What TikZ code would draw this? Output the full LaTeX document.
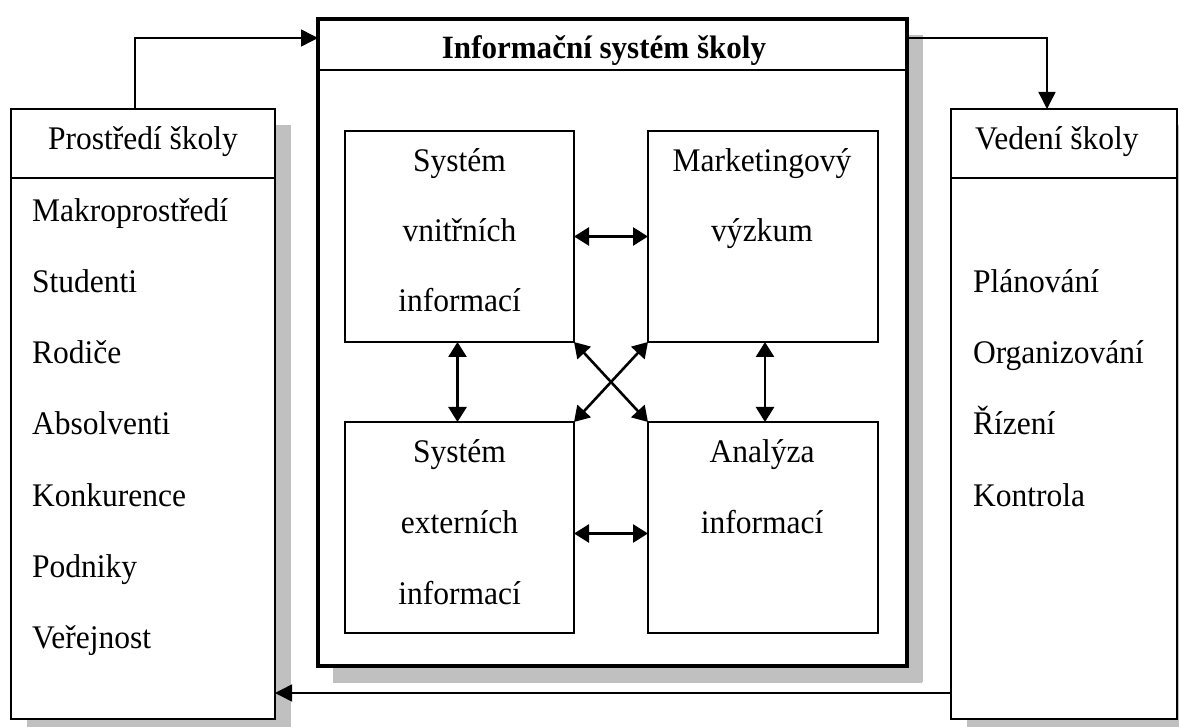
\documentclass[tikz,border=0pt]{standalone}
\usepackage{fontspec}
\setmainfont{Liberation Serif}[FakeStretch=0.955]
\usetikzlibrary{arrows.meta,shadows,calc}
\definecolor{shadowgray}{HTML}{C0C0C0}
\begin{document}
\begin{tikzpicture}[x=1pt,y=-1pt,
  shbox/.style={draw, fill=white, line width=1.6pt, inner sep=0pt, outer sep=0pt, anchor=north west,
    drop shadow={shadow xshift=16pt, shadow yshift=-16pt, fill=shadowgray, opacity=1}},
  inbox/.style={draw, fill=white, line width=1.5pt, inner sep=0pt, outer sep=0pt, anchor=north west},
  txt/.style={font=\fontsize{33}{40}\selectfont, inner sep=0pt, outer sep=0pt},
  conn/.style={line width=1.5pt, -{Triangle[length=17pt,width=17pt]}},
  biarrow/.style={line width=2.6pt, {Triangle[length=15pt,width=18pt]}-{Triangle[length=15pt,width=18pt]}}
]
\useasboundingbox (0,0) rectangle (1179,727);
\clip (0,0) rectangle (1179,727);

% outer boxes
\node[shbox, minimum width=264pt, minimum height=610pt] (L) at (11,109) {};
\node[shbox, minimum width=226pt, minimum height=610pt] (R) at (951,109) {};
\node[shbox, line width=4pt, minimum width=589pt, minimum height=647pt,
  drop shadow={shadow xshift=15pt, shadow yshift=-17pt, fill=shadowgray, opacity=1}] (IS) at (318,19) {};

% header dividers
\draw[line width=1.6pt] (L.west |- 0,178) -- (L.east |- 0,178);
\draw[line width=1.6pt] (R.west |- 0,178) -- (R.east |- 0,178);
\draw[line width=1.6pt] (IS.west |- 0,70) -- (IS.east |- 0,70);

% headers
\node[txt, anchor=base] (Lh) at (143,150) {Prostředí školy};
\node[txt, anchor=base west] (Rh) at (975,150) {Vedení školy};
\node[txt, anchor=base, font=\fontsize{32.5}{40}\selectfont\bfseries] (ISh) at (604,59) {Informační systém školy};

% left list
\node[txt, anchor=base west] (l1) at (32,222) {Makroprostředí};
\node[txt, anchor=base west] (l2) at (32,293) {Studenti};
\node[txt, anchor=base west] (l3) at (32,364) {Rodiče};
\node[txt, anchor=base west] (l4) at (32,435) {Absolventi};
\node[txt, anchor=base west] (l5) at (32,506) {Konkurence};
\node[txt, anchor=base west] (l6) at (32,577) {Podniky};
\node[txt, anchor=base west] (l7) at (32,648) {Veřejnost};

% right list
\node[txt, anchor=base west] (r1) at (973,293) {Plánování};
\node[txt, anchor=base west] (r2) at (973,364) {Organizování};
\node[txt, anchor=base west] (r3) at (973,435) {Řízení};
\node[txt, anchor=base west] (r4) at (973,506) {Kontrola};

% inner boxes
\node[inbox, minimum width=229pt, minimum height=211pt] (TL) at (345,131) {};
\node[inbox, minimum width=230pt, minimum height=211pt] (TR) at (648,131) {};
\node[inbox, minimum width=229pt, minimum height=211pt] (BL) at (345,422) {};
\node[inbox, minimum width=230pt, minimum height=211pt] (BR) at (648,422) {};

\node[txt, anchor=base] (tl1) at (459.5,172) {Systém};
\node[txt, anchor=base] (tl2) at (459.5,242) {vnitřních};
\node[txt, anchor=base] (tl3) at (459.5,312) {informací};
\node[txt, anchor=base] (tr1) at (762,172) {Marketingový};
\node[txt, anchor=base] (tr2) at (762,242) {výzkum};
\node[txt, anchor=base] (bl1) at (459.5,462) {Systém};
\node[txt, anchor=base] (bl2) at (459.5,533) {externích};
\node[txt, anchor=base] (bl3) at (459.5,604) {informací};
\node[txt, anchor=base] (br1) at (762,462) {Analýza};
\node[txt, anchor=base] (br2) at (762,533) {informací};

% inner arrows
\draw[biarrow] (TL.east) -- (TR.west);
\draw[biarrow] ([yshift=-6pt]BL.east) -- ([yshift=-6pt]BR.west);
\draw[biarrow] ([xshift=-2pt]TL.south) -- ([xshift=-2pt]BL.north);
\draw[biarrow] ([xshift=2pt]TR.south) -- ([xshift=2pt]BR.north);
\draw[biarrow] (TL.south east) -- (BR.north west);
\draw[biarrow] (TR.south west) -- (BL.north east);

% outer connectors
\coordinate (c1) at (135,38);
\coordinate (c2) at (1047,38);
\coordinate (c3) at (0,693);
\draw[conn] (L.north -| c1) |- (IS.west |- c1);
\draw[conn] (IS.east |- c2) -| (R.north -| c2);
\draw[conn] (R.west |- c3) -- (L.east |- c3);
\end{tikzpicture}
\end{document}
